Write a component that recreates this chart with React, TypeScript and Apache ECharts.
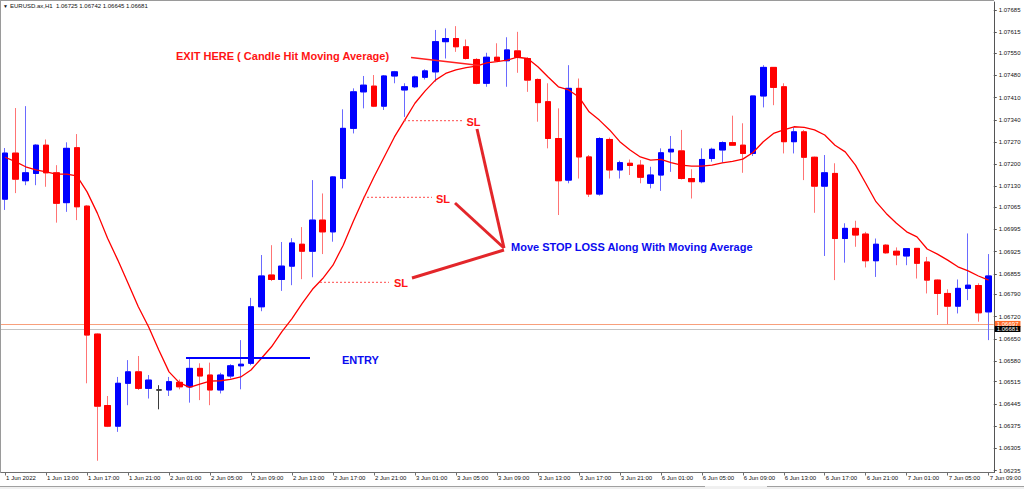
import React, { useEffect, useRef } from 'react';
import * as echarts from 'echarts';

// ---- time axis ----
const sessions = [
  { day: '1 Jun', from: 9, to: 23 },
  { day: '2 Jun', from: 0, to: 23 },
  { day: '3 Jun', from: 0, to: 23 },
  { day: '6 Jun', from: 0, to: 23 },
  { day: '7 Jun', from: 0, to: 9 },
];
const barTimes: string[] = [];
sessions.forEach((s) => {
  for (let h = s.from; h <= s.to; h++) barTimes.push(`${s.day} ${String(h).padStart(2, '0')}:00`);
});

const xTickLabels = [
  '1 Jun 2022', '1 Jun 13:00', '1 Jun 17:00', '1 Jun 21:00', '2 Jun 01:00', '2 Jun 05:00',
  '2 Jun 09:00', '2 Jun 13:00', '2 Jun 17:00', '2 Jun 21:00', '3 Jun 01:00', '3 Jun 05:00',
  '3 Jun 09:00', '3 Jun 13:00', '3 Jun 17:00', '3 Jun 21:00', '6 Jun 01:00', '6 Jun 05:00',
  '6 Jun 09:00', '6 Jun 13:00', '6 Jun 17:00', '6 Jun 21:00', '7 Jun 01:00', '7 Jun 05:00',
  '7 Jun 09:00',
];

const priceTicks = [
  1.07685, 1.07615, 1.0755, 1.0748, 1.0741, 1.0734, 1.0727, 1.072, 1.0713, 1.07065, 1.06995,
  1.06925, 1.06855, 1.0679, 1.0672, 1.0665, 1.0658, 1.06515, 1.06445, 1.06375, 1.06305, 1.06235,
];

// ---- OHLC ----
const opens = [
  1.0709, 1.07235, 1.07148, 1.07171, 1.0726, 1.07173, 1.07079, 1.07252, 1.07068, 1.06665,
  1.0644, 1.06375, 1.0651, 1.06546, 1.06494, 1.06489, 1.06489, 1.06513, 1.06499, 1.06557,
  1.06536, 1.06489, 1.06533, 1.06565, 1.06573, 1.06751, 1.06851, 1.06837, 1.06879, 1.06948,
  1.06926, 1.07024, 1.06987, 1.07155, 1.07313, 1.07428, 1.07446, 1.07383, 1.07478, 1.07434,
  1.07444, 1.07474, 1.07491, 1.07586, 1.07596, 1.0757, 1.0753, 1.07455, 1.07537, 1.07526,
  1.07557, 1.07533, 1.07467, 1.07397, 1.07281, 1.0715, 1.07439, 1.07223, 1.07106, 1.07278,
  1.07182, 1.07203, 1.07197, 1.0714, 1.07166, 1.07239, 1.07242, 1.07155, 1.07145, 1.07218,
  1.07245, 1.07268, 1.0726, 1.07234, 1.07415, 1.07505, 1.07444, 1.07271, 1.07302, 1.07222,
  1.07131, 1.07171, 1.06966, 1.06998, 1.0698, 1.06896, 1.06945, 1.06926, 1.06911, 1.06935,
  1.06892, 1.06835, 1.06793, 1.06753, 1.06809, 1.06818, 1.06735,
];
const closes = [
  1.07235, 1.07153, 1.07173, 1.0726, 1.07173, 1.07077, 1.0725, 1.07066, 1.06662, 1.06438,
  1.06375, 1.0651, 1.06546, 1.06494, 1.0652, 1.06489, 1.06515, 1.06499, 1.06557, 1.06533,
  1.06489, 1.06536, 1.06565, 1.0657, 1.06751, 1.06848, 1.06837, 1.06879, 1.06952, 1.06926,
  1.07024, 1.06987, 1.0716, 1.07313, 1.07428, 1.07449, 1.07383, 1.07478, 1.07491, 1.07444,
  1.07475, 1.07494, 1.07586, 1.07596, 1.0757, 1.07533, 1.07455, 1.07537, 1.07526, 1.0756,
  1.07537, 1.07465, 1.07394, 1.07281, 1.07148, 1.07439, 1.07223, 1.07106, 1.07281, 1.07182,
  1.07205, 1.07196, 1.07159, 1.07166, 1.07236, 1.07247, 1.07155, 1.07145, 1.07215, 1.07247,
  1.07268, 1.0726, 1.07234, 1.07415, 1.07505, 1.07442, 1.07271, 1.07302, 1.07222, 1.07131,
  1.07173, 1.06966, 1.06998, 1.06977, 1.06896, 1.06948, 1.06921, 1.06914, 1.06934, 1.06888,
  1.06835, 1.06793, 1.06753, 1.06809, 1.06819, 1.06732, 1.06848,
];
const highs = [
  1.07251, 1.07377, 1.07383, 1.07263, 1.07278, 1.07197, 1.07269, 1.07295, 1.07071, 1.06667,
  1.0647, 1.0653, 1.06583, 1.06596, 1.06536, 1.06504, 1.0653, 1.06522, 1.06588, 1.06573,
  1.06575, 1.06543, 1.0657, 1.06646, 1.06779, 1.06914, 1.06945, 1.06955, 1.06967, 1.07002,
  1.0715, 1.07108, 1.07162, 1.07373, 1.07439, 1.07478, 1.07481, 1.07481, 1.07494, 1.07455,
  1.07479, 1.07499, 1.07623, 1.07628, 1.07635, 1.07593, 1.07534, 1.07551, 1.07581, 1.076,
  1.07617, 1.07537, 1.0747, 1.07455, 1.07376, 1.07512, 1.0747, 1.07229, 1.07285, 1.07284,
  1.07211, 1.07215, 1.07213, 1.07192, 1.0725, 1.07289, 1.07308, 1.07184, 1.0725, 1.07252,
  1.07272, 1.07353, 1.07329, 1.07415, 1.07512, 1.07506, 1.07455, 1.07316, 1.07308, 1.07224,
  1.07229, 1.07203, 1.07014, 1.07022, 1.06987, 1.06966, 1.06948, 1.06938, 1.06936, 1.06936,
  1.06908, 1.06837, 1.06806, 1.06837, 1.06982, 1.06825, 1.06917,
];
const lows = [
  1.07056, 1.07109, 1.07134, 1.07134, 1.07129, 1.07016, 1.0705, 1.07024, 1.0651, 1.06266,
  1.06372, 1.06357, 1.06441, 1.06489, 1.06462, 1.06428, 1.0647, 1.06491, 1.06449, 1.06457,
  1.06441, 1.06478, 1.06525, 1.06491, 1.06567, 1.06737, 1.06832, 1.06801, 1.06819, 1.06838,
  1.06844, 1.06917, 1.06956, 1.07124, 1.07297, 1.07376, 1.0738, 1.07371, 1.07455, 1.07349,
  1.0744, 1.07467, 1.0746, 1.07533, 1.07554, 1.0753, 1.07452, 1.07444, 1.07523, 1.07444,
  1.07488, 1.07428, 1.07334, 1.0725, 1.0704, 1.0714, 1.07155, 1.07097, 1.07101, 1.07155,
  1.07155, 1.07166, 1.0714, 1.07124, 1.07116, 1.07176, 1.07152, 1.07092, 1.0714, 1.07208,
  1.07205, 1.07259, 1.07173, 1.07226, 1.07379, 1.07386, 1.07234, 1.07234, 1.0715, 1.07047,
  1.06911, 1.06835, 1.0689, 1.0694, 1.06875, 1.06845, 1.06918, 1.06882, 1.06882, 1.0684,
  1.06793, 1.06725, 1.06696, 1.0673, 1.06772, 1.06704, 1.06646,
];

// ---- moving average ----
const maValues = [
  1.07222, 1.07208, 1.07192, 1.07182, 1.07176, 1.07169, 1.07169, 1.07163, 1.07113, 1.07046,
  1.06967, 1.06898, 1.06825, 1.06751, 1.06688, 1.06615, 1.06546, 1.06512, 1.06497, 1.06507,
  1.06517, 1.06518, 1.06522, 1.0653, 1.06552, 1.06588, 1.06625, 1.06672, 1.06714, 1.06762,
  1.06806, 1.0684, 1.06882, 1.06945, 1.07021, 1.07093, 1.0716, 1.07223, 1.07286, 1.07339,
  1.07392, 1.07431, 1.07465, 1.07486, 1.07497, 1.07504, 1.07509, 1.07519, 1.07523, 1.07528,
  1.07537, 1.07533, 1.07507, 1.07475, 1.07444, 1.07434, 1.07412, 1.07365, 1.07339, 1.07308,
  1.07271, 1.07245, 1.07223, 1.07213, 1.07215, 1.07205, 1.07197, 1.07194, 1.07194, 1.07197,
  1.07204, 1.07209, 1.07216, 1.07237, 1.07271, 1.07297, 1.07308, 1.07318, 1.07316, 1.07308,
  1.07292, 1.0726, 1.07239, 1.07197, 1.0714, 1.07082, 1.07045, 1.07014, 1.06987, 1.06971,
  1.06933, 1.06917, 1.06898, 1.06877, 1.06864, 1.06848, 1.06835,
];

const askPrice = 1.06697;
const bidPrice = 1.06681;
const titleText = 'EURUSD.ax,H1  1.06725 1.06742 1.06645 1.06681';

const FONT = '"Liberation Sans", Arial, sans-serif';

export default function App() {
  const ref = useRef<HTMLDivElement>(null);
  useEffect(() => {
    if (!ref.current) return;
    const chart = echarts.init(ref.current, null, { renderer: 'svg' });
    const fullData = opens.map((o, i) => [o, closes[i], lows[i], highs[i]]);
    const bodyData = opens.map((o, i) => [o, closes[i], Math.min(o, closes[i]), Math.max(o, closes[i])]);
    const redText = '#ff1414';
    const blueText = '#0b0bf0';
    const arrowRed = '#e3262a';
    const boldFont = `bold 11px ${FONT}`;
    const priceLabel = (text: string, bg: string) => ({
      show: true,
      position: 'end',
      distance: 1,
      formatter: text,
      backgroundColor: bg,
      color: '#ffffff',
      fontSize: 6,
      fontFamily: FONT,
      padding: [0, 2, 0, 2],
    });

    chart.setOption({
      animation: false,
      backgroundColor: '#ffffff',
      grid: { left: -3, right: 30, top: 2, bottom: 16.5, containLabel: false },
      xAxis: {
        type: 'category',
        data: barTimes,
        boundaryGap: true,
        axisLine: { show: true, lineStyle: { color: '#6e6e6e', width: 1 } },
        axisTick: { show: true, interval: 3, alignWithLabel: true, length: 3, lineStyle: { color: '#6e6e6e' } },
        axisLabel: {
          interval: 3,
          align: 'left',
          margin: 2,
          fontSize: 6,
          fontFamily: FONT,
          color: '#111',
          padding: [0, 0, 0, 1],
          formatter: (_v: string, idx: number) => (idx % 4 === 0 ? xTickLabels[idx / 4] : ''),
        },
        splitLine: { show: false },
      },
      yAxis: {
        type: 'value',
        position: 'right',
        scale: true,
        min: 1.06229,
        max: 1.07711,
        axisLine: { show: true, lineStyle: { color: '#555555', width: 1 } },
        axisTick: { show: true, length: 3, customValues: priceTicks, lineStyle: { color: '#555555' } },
        axisLabel: {
          customValues: priceTicks,
          margin: 5,
          fontSize: 6,
          fontFamily: FONT,
          color: '#111',
          formatter: (v: number) => v.toFixed(5),
        },
        splitLine: { show: false },
      },
      series: [
        {
          type: 'candlestick',
          name: 'wicks',
          data: fullData,
          barWidth: 6,
          z: 2,
          itemStyle: {
            color: '#0000ff',
            color0: '#ff0000',
            borderColor: '#6a6aff',
            borderColor0: '#ff7474',
            borderColorDoji: '#3c3c3c',
            borderWidth: 1,
          },
        },
        {
          type: 'candlestick',
          name: 'bodies',
          data: bodyData,
          barWidth: 6,
          z: 3,
          itemStyle: {
            color: '#0000ff',
            color0: '#ff0000',
            borderColor: '#0000ff',
            borderColor0: '#ff0000',
            borderColorDoji: '#3c3c3c',
            borderWidth: 1,
          },
        },
        {
          type: 'line',
          name: 'MA',
          data: maValues,
          symbol: 'none',
          z: 5,
          lineStyle: { color: '#ff0000', width: 1.3 },
          markLine: {
            silent: true,
            symbol: 'none',
            precision: 5,
            z: 1,
            data: [
              { yAxis: askPrice, lineStyle: { color: '#f8a07c', width: 1, type: 'solid' }, label: priceLabel(askPrice.toFixed(5), '#ff6a26') },
              { yAxis: bidPrice, lineStyle: { color: '#c4c4c4', width: 1, type: 'solid' }, label: priceLabel(bidPrice.toFixed(5), '#000000') },
            ],
          },
        },
      ],
      graphic: [
        // frame
        { type: 'line', shape: { x1: 0.5, y1: 0, x2: 0.5, y2: 473 }, style: { stroke: '#9a9a9a', lineWidth: 1 }, z: 10 },
        { type: 'line', shape: { x1: 0, y1: 0.5, x2: 994, y2: 0.5 }, style: { stroke: '#9a9a9a', lineWidth: 1 }, z: 10 },
        // bottom tab bar
        { type: 'rect', shape: { x: 0, y: 486, width: 1024, height: 3 }, style: { fill: '#f0f0f0' }, z: 10 },
        { type: 'line', shape: { x1: 0, y1: 486.5, x2: 705, y2: 486.5 }, style: { stroke: '#a0a0a0', lineWidth: 1 }, z: 10 },
        { type: 'line', shape: { x1: 767, y1: 486.5, x2: 1024, y2: 486.5 }, style: { stroke: '#a0a0a0', lineWidth: 1 }, z: 10 },
        // title
        { type: 'text', x: 3, y: 6, style: { text: '▼', font: `5px ${FONT}`, fill: '#111', verticalAlign: 'middle' }, z: 10 },
        { type: 'text', x: 10, y: 6, style: { text: titleText, font: `6px ${FONT}`, fill: '#111', verticalAlign: 'middle' }, z: 10 },
        // exit annotation
        { type: 'text', x: 176, y: 55.5, style: { text: 'EXIT HERE ( Candle Hit Moving Average)', font: boldFont, fill: redText, verticalAlign: 'middle' }, z: 10 },
        { type: 'line', shape: { x1: 411, y1: 57.5, x2: 480, y2: 65.5 }, style: { stroke: '#ff2020', lineWidth: 1.3 }, z: 10 },
        // SL dotted lines
        { type: 'line', shape: { x1: 404, y1: 120.7, x2: 463, y2: 120.7 }, style: { stroke: '#ff4a4a', lineWidth: 1, lineDash: [2, 2] }, z: 10 },
        { type: 'line', shape: { x1: 363, y1: 197.3, x2: 432, y2: 197.3 }, style: { stroke: '#ff4a4a', lineWidth: 1, lineDash: [2, 2] }, z: 10 },
        { type: 'line', shape: { x1: 320, y1: 282.3, x2: 389, y2: 282.3 }, style: { stroke: '#ff4a4a', lineWidth: 1, lineDash: [2, 2] }, z: 10 },
        // SL labels
        { type: 'text', x: 466.5, y: 121.5, style: { text: 'SL', font: boldFont, fill: redText, verticalAlign: 'middle' }, z: 10 },
        { type: 'text', x: 436, y: 198.5, style: { text: 'SL', font: boldFont, fill: redText, verticalAlign: 'middle' }, z: 10 },
        { type: 'text', x: 394, y: 283, style: { text: 'SL', font: boldFont, fill: redText, verticalAlign: 'middle' }, z: 10 },
        // thick pointer lines
        { type: 'line', shape: { x1: 477, y1: 129, x2: 504, y2: 248 }, style: { stroke: arrowRed, lineWidth: 3 }, z: 10 },
        { type: 'line', shape: { x1: 455, y1: 203, x2: 504, y2: 248 }, style: { stroke: arrowRed, lineWidth: 3 }, z: 10 },
        { type: 'line', shape: { x1: 412, y1: 278, x2: 504, y2: 250 }, style: { stroke: arrowRed, lineWidth: 3 }, z: 10 },
        { type: 'text', x: 511, y: 246.5, style: { text: 'Move STOP LOSS Along With Moving Average', font: boldFont, fill: blueText, verticalAlign: 'middle' }, z: 10 },
        // entry
        { type: 'line', shape: { x1: 186, y1: 358, x2: 310, y2: 358 }, style: { stroke: '#0000ff', lineWidth: 2 }, z: 10 },
        { type: 'text', x: 342, y: 360, style: { text: 'ENTRY', font: boldFont, fill: blueText, verticalAlign: 'middle' }, z: 10 },
      ],
    });
    return () => chart.dispose();
  }, []);
  return <div ref={ref} style={{ position: 'absolute', left: 0, top: 0, width: 1024, height: 489 }} />;
}
